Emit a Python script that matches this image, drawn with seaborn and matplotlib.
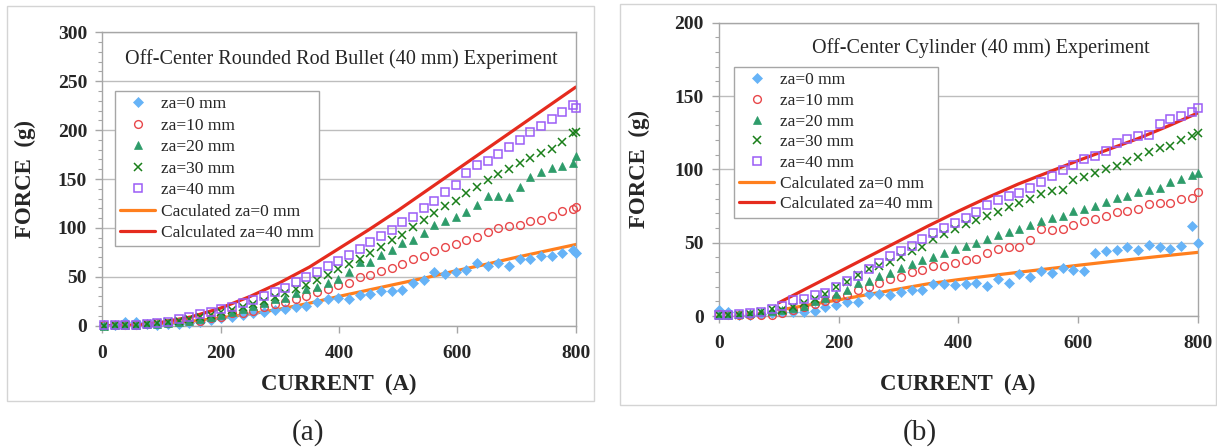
import matplotlib
matplotlib.use("Agg")
import matplotlib.pyplot as plt
import seaborn as sns
import pandas as pd
from matplotlib.patches import Rectangle
from matplotlib.ticker import MultipleLocator
from matplotlib.lines import Line2D

# ---------------- data: panel (a) ----------------
current_a = [3, 21, 39, 57, 75, 93, 111, 129, 147, 165, 183, 201, 219, 237, 255, 273,
             291, 309, 327, 345, 363, 381, 399, 417, 435, 453, 471, 489, 507, 525, 543,
             561, 579, 597, 615, 633, 651, 669, 687, 705, 723, 741, 759, 777, 795, 800]
za0_a = [0.5, 1, 4, 4, 1.5, 1.2, 1.5, 2, 3, 4, 5.5, 7.5, 9, 11, 12.5, 14, 16, 17.5, 19, 20,
         24, 27, 28.5, 27, 31, 32.5, 35, 35, 37, 44, 47, 54.5, 52.5, 55, 57, 63.8, 61, 64,
         61, 68, 68, 71.5, 71.5, 74.5, 77, 74]
za10_a = [0.3, 0.5, 0.7, 1, 1.5, 2.4, 2.4, 3.4, 4.8, 5, 7.5, 9, 12.6, 13.3, 15, 19.4, 22, 24,
          27, 30, 34, 38, 41.6, 44, 49.4, 52, 56, 59, 63, 68, 71, 76.7, 80, 83.5, 87.6, 91,
          95.5, 100, 102, 102.6, 107, 108, 112, 117, 119, 121.5]
za20_a = [0, 0.3, 0.5, 1, 1.5, 2.2, 3, 4, 5, 6.5, 9.2, 11, 13.6, 16.7, 20.5, 23.5, 27, 28,
          33, 38, 40, 44, 48, 55, 65, 65.5, 72, 77, 85, 87.6, 95, 103, 107, 111, 116.6, 123,
          132.6, 133, 132, 141.6, 152, 157.5, 161, 163, 166, 174]
za30_a = [0, 0.4, 0.8, 1.2, 2, 2.8, 3.5, 5, 7, 9, 11, 13.5, 16, 19, 22, 25.5, 29, 33, 38, 42,
          47, 52, 57.6, 63, 68, 74, 80, 88, 93, 100.6, 108, 115, 122, 128, 136, 142, 149,
          155, 160, 166, 171, 177, 181, 188, 196.7, 198]
za40_a = [0.3, 0.5, 0.8, 1.2, 2, 3, 4, 6.5, 9, 12, 14.5, 17, 19.5, 23, 26.5, 30.5, 34.5, 39,
          44.5, 50, 55, 61, 66, 72, 78, 86, 92, 98, 106, 111, 120, 128, 137, 143.5, 156, 164,
          168, 176, 183, 190, 198, 204, 211, 219, 226, 223]
calc_current_a = [0, 50, 100, 150, 200, 250, 300, 350, 400, 450, 500, 550, 600, 650, 700, 750, 800]
calc_za0_a = [0, 0.5, 2, 4.5, 8, 12, 17, 23, 30, 36.5, 43, 49.5, 56.5, 63, 70, 76.5, 83]
calc_za40_a = [0, 0.5, 3.5, 9, 18, 30, 44, 60, 79, 98, 118, 139, 160, 181, 202, 223, 244]

# ---------------- data: panel (b) ----------------
current_b = [0, 16, 34, 52, 70, 88, 106, 124, 142, 160, 178, 196, 214, 232, 250, 268, 286,
             304, 322, 340, 358, 376, 394, 412, 430, 448, 466, 484, 502, 520, 538, 556, 574,
             592, 610, 628, 646, 664, 682, 700, 718, 736, 754, 772, 790, 800]
za0_b = [4, 3, 0.8, 1, 1.5, 2, 2.5, 2.8, 3, 3.6, 6.4, 7.5, 9.8, 9.8, 14.8, 15, 14.5, 16.4,
         17.7, 17.7, 21.6, 21.6, 21, 21.6, 22.7, 20.5, 25, 22.7, 28.6, 26.4, 31, 29, 32.5,
         31.4, 31, 43.2, 44.5, 45, 47.3, 45, 48.4, 46.8, 46, 47.7, 61.4, 50]
za10_b = [1.5, 1, 0.8, 0.8, 0.8, 0.7, 1.8, 4, 6, 8.5, 10, 12, 14, 17.5, 19.5, 22.5, 25.5,
          26.8, 30, 31.5, 34, 34, 36.4, 38, 39, 43, 46, 46.8, 47.3, 51.8, 59, 58.6, 59.5,
          62.3, 64.5, 66.4, 68, 71, 71.8, 73, 76.4, 76.8, 76.8, 79.8, 80.2, 84.8]
za20_b = [0.5, 0.8, 1.2, 1.8, 2.5, 3.2, 4.2, 5.2, 7, 10, 12, 15, 17.5, 22.5, 24, 27.5, 29,
          32.5, 35.5, 38, 40.5, 43, 46, 48, 50, 52.8, 55.3, 57, 59.5, 62.3, 64.8, 67, 68.3,
          71.5, 73.3, 75, 77.5, 80.3, 81.8, 84.4, 86, 87, 91.5, 93.5, 96.3, 97.3]
za30_b = [0.5, 0.7, 1, 1.5, 2.5, 4.5, 4.2, 6, 9, 11.5, 15, 20, 23.5, 28, 31.8, 34, 36.5, 40,
          44, 47, 52.8, 56, 59.5, 63, 65.5, 68.5, 71, 74, 77, 79.5, 83.5, 85.3, 86, 93, 95,
          97.5, 100.5, 102.5, 106, 108.5, 111.5, 114.5, 116, 120, 122.5, 124.5]
za40_b = [0.5, 1, 1.4, 2.3, 3, 4.5, 6.8, 11, 11.6, 14, 16, 20, 24, 27.3, 32.3, 36.4, 41, 44,
          48, 52.5, 56.4, 60, 63.6, 66.6, 71, 75.5, 79, 82, 84, 87.5, 91.6, 95.7, 99.5, 103,
          107, 109, 112.7, 117.7, 120.5, 122.7, 123.6, 131, 134, 136.6, 139, 142]
calc_current_b = [100, 150, 200, 250, 300, 350, 400, 450, 500, 550, 600, 650, 700, 750, 800]
calc_za0_b = [4, 7.5, 11, 14.7, 18.4, 22, 24.8, 27.3, 29.8, 32.2, 34.6, 36.9, 39.1, 41.3, 43.4]
calc_za40_b = [9, 19.5, 30, 40.5, 51, 61.5, 71.5, 81, 90, 98, 106, 113.5, 121, 129.5, 138.5]

series_labels = ["za=0 mm", "za=10 mm", "za=20 mm", "za=30 mm", "za=40 mm"]
calc_labels_a = ["Caculated za=0 mm", "Calculated za=40 mm"]
calc_labels_b = ["Calculated za=0 mm", "Calculated za=40 mm"]
titles = ["Off-Center Rounded Rod Bullet (40 mm) Experiment", "Off-Center Cylinder (40 mm) Experiment"]
captions = ["(a)", "(b)"]

# ---------------- styles ----------------
marker_styles = [
    dict(marker="D", ms=4.6, mfc="#66B3F7", mec="#66B3F7", mew=0.5),
    dict(marker="o", ms=5.6, mfc="none", mec="#E8474A", mew=1.0),
    dict(marker="^", ms=6.4, mfc="#2E9C6A", mec="#2E9C6A", mew=0.5),
    dict(marker="x", ms=5.2, mfc="#1A7F1A", mec="#1A7F1A", mew=1.1),
    dict(marker="s", ms=5.8, mfc="none", mec="#9B5CF6", mew=1.1),
]
calc_colors = ["#FF7F1E", "#E52B1E"]

sns.set_style("white")
plt.rcParams["font.family"] = ["Liberation Serif", "DejaVu Serif"]

W, H = 1217, 448
fig = plt.figure(figsize=(W / 100, H / 100), dpi=100)

# panel geometry in pixels: (x0, x1, ytop, ybottom)
geo = [(102.3, 575.8, 32.3, 325.7), (718.8, 1198.0, 22.7, 316.0)]
frames = [(7, 594, 6, 401), (620, 1216, 4, 405)]
ymax = [300, 200]
legend_anchor = [(0.027, 0.801), (0.032, 0.849)]
legend_spacing = [0.31, 0.26]
title_pos = [(0.504, 0.91), (0.5465, 0.915)]
ylabel_x = [-0.163, -0.1666]
xlabel_y = [-0.2, -0.233]
caption_x = [307.7, 919.7]

panels = [
    (current_a, [za0_a, za10_a, za20_a, za30_a, za40_a], calc_current_a, [calc_za0_a, calc_za40_a], calc_labels_a),
    (current_b, [za0_b, za10_b, za20_b, za30_b, za40_b], calc_current_b, [calc_za0_b, calc_za40_b], calc_labels_b),
]

for i, (cur, series, ccur, calcs, clabels) in enumerate(panels):
    x0, x1, yt, yb = geo[i]
    ax = fig.add_axes([x0 / W, 1 - yb / H, (x1 - x0) / W, (yb - yt) / H])

    # calculated lines (drawn beneath markers)
    for vals, col in zip(calcs, calc_colors):
        sns.lineplot(x=ccur, y=vals, ax=ax, color=col, lw=2.3, estimator=None,
                     sort=False, legend=False, zorder=2)
    # measured series
    for vals, st in zip(series, marker_styles):
        sns.lineplot(x=cur, y=vals, ax=ax, linestyle="none", estimator=None, sort=False,
                     legend=False, color=st["mec"], zorder=3, clip_on=False, **st)

    ax.set_xlim(0, 800)
    ax.set_ylim(0, ymax[i])
    ax.xaxis.set_major_locator(MultipleLocator(200))
    ax.yaxis.set_major_locator(MultipleLocator(50))
    ax.yaxis.set_minor_locator(MultipleLocator(10))
    ax.yaxis.grid(True, which="major", color="#BDBDBD", lw=1.0)
    ax.xaxis.grid(False)
    ax.set_axisbelow(True)
    for sp in ax.spines.values():
        sp.set_visible(True)
        sp.set_color("#A6A6A6")
        sp.set_linewidth(1.0)
    ax.tick_params(axis="x", which="major", direction="out", length=5, width=1,
                   color="#A6A6A6", labelsize=14, pad=9, bottom=True)
    ax.tick_params(axis="y", which="major", direction="out", length=5, width=1,
                   color="#A6A6A6", labelsize=14, pad=6, left=True)
    ax.tick_params(axis="y", which="minor", direction="out", length=3, width=0.8,
                   color="#A6A6A6", left=True)
    for lab in ax.get_xticklabels() + ax.get_yticklabels():
        lab.set_fontweight("bold")

    ax.set_xlabel("CURRENT  (A)", fontsize=16.5, fontweight="bold")
    ax.set_ylabel("FORCE  (g)", fontsize=16.5, fontweight="bold")
    ax.xaxis.set_label_coords(0.499, xlabel_y[i])
    ax.yaxis.set_label_coords(ylabel_x[i], 0.5)
    ax.xaxis.label.set_va("center")
    ax.yaxis.label.set_va("center")

    ax.text(title_pos[i][0], title_pos[i][1], titles[i], transform=ax.transAxes,
            ha="center", va="center", fontsize=14.5)

    handles = []
    for st in marker_styles:
        handles.append(Line2D([], [], linestyle="none", **st))
    for col in calc_colors:
        handles.append(Line2D([], [], color=col, lw=2.3))
    leg = ax.legend(handles, series_labels + clabels, loc="upper left",
                    bbox_to_anchor=legend_anchor[i], borderaxespad=0, fontsize=12.5,
                    frameon=True, fancybox=False, framealpha=1, edgecolor="#A6A6A6",
                    handlelength=2.0, handletextpad=0.35, borderpad=0.3,
                    labelspacing=legend_spacing[i], numpoints=1)
    leg.get_frame().set_linewidth(1.0)

    fx0, fx1, fyt, fyb = frames[i]
    fig.patches.append(Rectangle((fx0 / W, 1 - fyb / H), (fx1 - fx0) / W, (fyb - fyt) / H,
                                 transform=fig.transFigure, fill=False,
                                 edgecolor="#D4D4D4", lw=1.0, zorder=0))
    fig.text(caption_x[i] / W, 1 - 433 / H, captions[i], ha="center", va="center", fontsize=21)

fig.savefig("out.png", dpi=100, facecolor="white")
